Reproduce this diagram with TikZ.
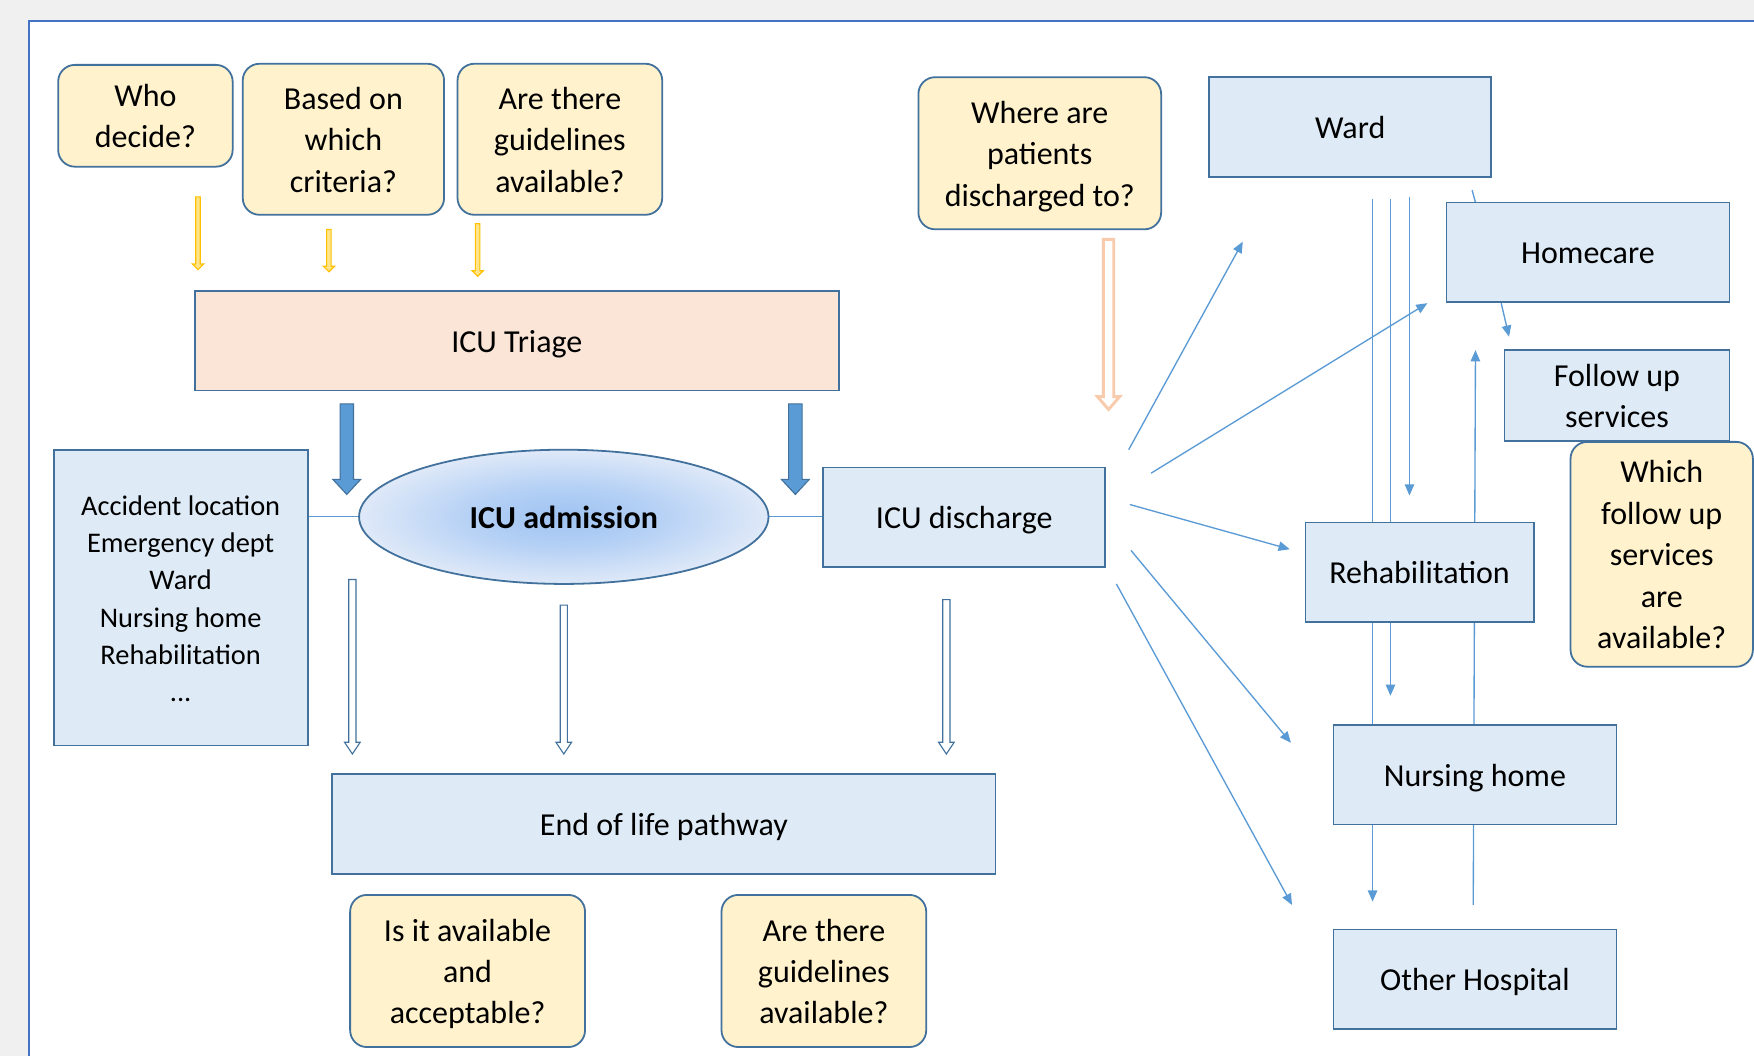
\documentclass[tikz,border=0pt]{standalone}
\usepackage{fontspec}
\setmainfont{Carlito}
\usetikzlibrary{arrows.meta,shapes.geometric}
\definecolor{qfill}{HTML}{FFF2CC}
\definecolor{bfill}{HTML}{DEEBF7}
\definecolor{tfill}{HTML}{FBE5D6}
\definecolor{bord}{HTML}{41719C}
\definecolor{lnkc}{HTML}{5B9BD5}
\definecolor{goldc}{HTML}{FFC000}
\definecolor{goldfill}{HTML}{FFE48A}
\definecolor{peach}{HTML}{F8CBAD}
\definecolor{framec}{HTML}{4472C4}
\definecolor{bgg}{HTML}{F0F0F0}
\definecolor{shin}{HTML}{9FC3F2}
\definecolor{shmid}{HTML}{B4D0F5}
\definecolor{shout}{HTML}{DFE9F8}
\pgfdeclareradialshading{admshade}{\pgfpoint{0bp}{0bp}}{color(0bp)=(shin); color(11bp)=(shmid); color(25bp)=(shout); color(50bp)=(shout)}
\pgfdeclarelayer{back}
\pgfdeclarelayer{bg}
\pgfsetlayers{back,bg,main}
\newcommand{\blockdown}[7]{%
  \draw[#1] ({#2-#5},#3) -- ({#2+#5},#3) -- ({#2+#5},{#4-#7}) -- ({#2+#6},{#4-#7}) -- (#2,#4) -- ({#2-#6},{#4-#7}) -- ({#2-#5},{#4-#7}) -- cycle;}
\newcommand{\boxtext}[1]{\raisebox{-1.4pt}[\height][\depth]{\begin{tabular}{@{}c@{}}#1\end{tabular}}}
\begin{document}
\begin{tikzpicture}[x=0.5pt,y=-0.5pt,
  qbox/.style={draw=bord, line width=0.8pt, fill=qfill, rounded corners=7.5pt, inner sep=0pt, font=\fontsize{14.3}{18.5}\selectfont},
  bbox/.style={draw=bord, line width=0.8pt, fill=bfill, inner sep=0pt, font=\fontsize{14.3}{18.5}\selectfont},
  lnk/.style={draw=lnkc, line width=0.6pt},
  tipl/.style={lnk, -{Triangle[length=5pt,width=4.2pt]}},
  goldarrow/.style={draw=goldc, fill=goldfill, line width=0.5pt},
  hollow/.style={draw=bord, fill=white, line width=0.5pt},
  thick blue/.style={draw=bord, fill=lnkc, line width=0.5pt}
]
\useasboundingbox (0,0) rectangle (1568,944);
\begin{pgfonlayer}{back}
\fill[bgg] (0,0) rectangle (1568,944);
\fill[white] (26,19) rectangle (1568,944);
\draw[framec, line width=0.8pt] (26,944) -- (26,19) -- (1568,19);
\end{pgfonlayer}

% question boxes
\node[qbox, minimum width=78pt, minimum height=45.5pt] (who) at (130,103.5) {\boxtext{Who\\decide?}};
\node[qbox, minimum width=90pt, minimum height=67.5pt] (crit) at (307,124.5) {\boxtext{Based on\\which\\criteria?}};
\node[qbox, minimum width=91.5pt, minimum height=67.5pt] (guide) at (500.5,124.5) {\boxtext{Are there\\guidelines\\available?}};
\node[qbox, minimum width=108.5pt, minimum height=68pt] (where) at (929.5,137) {\boxtext{Where are\\patients\\discharged to?}};
\node[qbox, minimum width=105pt, minimum height=68pt] (avail) at (418,868) {\boxtext{Is it available\\and\\acceptable?}};
\node[qbox, minimum width=91.5pt, minimum height=68pt] (guide2) at (736.5,868) {\boxtext{Are there\\guidelines\\available?}};

% main boxes
\node[bbox, fill=tfill, minimum width=288pt, minimum height=44.5pt] (triage) at (462,304.5) {\boxtext{ICU Triage}};
\node[ellipse, draw=bord, line width=0.8pt, shading=admshade, minimum width=183pt, minimum height=60pt, inner sep=0pt, font=\fontsize{14.3}{18.5}\selectfont\bfseries] (adm) at (504,462) {\boxtext{ICU admission}};
\node[bbox, minimum width=113.5pt, minimum height=132pt, font=\fontsize{12.7}{16.6}\selectfont] (src) at (161.5,534.5) {\boxtext{Accident location\\Emergency dept\\Ward\\Nursing home\\Rehabilitation\\...}};
\node[bbox, minimum width=126pt, minimum height=44.5pt] (disc) at (862,462.5) {\boxtext{ICU discharge}};
\node[bbox, minimum width=296.5pt, minimum height=44.5pt] (eol) at (593.5,736.5) {\boxtext{End of life pathway}};
\node[bbox, minimum width=126pt, minimum height=44.5pt] (ward) at (1207,113.5) {\boxtext{Ward}};
\node[bbox, minimum width=126.5pt, minimum height=44.5pt] (home) at (1419.5,225.5) {\boxtext{Homecare}};
\node[bbox, minimum width=100.5pt, minimum height=40.5pt] (follow) at (1445.5,353.5) {\boxtext{Follow up\\services}};
\node[qbox, minimum width=81.5pt, minimum height=100.5pt] (which) at (1485.5,495.5) {\boxtext{Which\\follow up\\services\\are\\available?}};
\node[bbox, minimum width=102pt, minimum height=44.5pt] (rehab) at (1269,511.5) {\boxtext{Rehabilitation}};
\node[bbox, minimum width=126.5pt, minimum height=44.5pt] (nurs) at (1318.5,692.5) {\boxtext{Nursing home}};
\node[bbox, minimum width=126.5pt, minimum height=44.5pt] (other) at (1318.5,875.5) {\boxtext{Other Hospital}};

% block arrows
\blockdown{goldarrow}{177}{176}{241}{2}{5}{5}
\blockdown{goldarrow}{294}{205}{243}{2}{5}{5}
\blockdown{goldarrow}{427}{200}{247}{2}{5}{5}
\blockdown{thick blue}{310}{361}{442}{6}{12.5}{13.5}
\blockdown{thick blue}{711}{361}{442}{6}{12.5}{13.5}
\blockdown{hollow}{315}{518}{674}{3.2}{7}{10.5}
\blockdown{hollow}{504}{541}{674}{3.2}{7}{10.5}
\blockdown{hollow}{846}{536}{674}{3.2}{7}{10.5}
\blockdown{draw=peach, fill=white, line width=1.3pt}{991}{214}{366}{4.6}{10}{11.5}

% connectors
\coordinate (f1s) at (1009,402); \coordinate (f1e) at (1111,216);
\coordinate (f2s) at (1029,423); \coordinate (f2e) at (1276,271);
\coordinate (f3s) at (1010,451); \coordinate (f3e) at (1153,491);
\coordinate (f4s) at (1011,492); \coordinate (f4e) at (1154,664);
\coordinate (f5s) at (998,522);  \coordinate (f5e) at (1155,809);
\coordinate (v1s) at (1227,178); \coordinate (v1e) at (1227,806);
\coordinate (v2s) at (1243,178); \coordinate (v2e) at (1243,622);
\coordinate (v3s) at (1260,176); \coordinate (v3e) at (1260,443);
\coordinate (v4s) at (1317,809); \coordinate (v4e) at (1319,313);
\coordinate (sts) at (1316,170); \coordinate (ste) at (1319,181);
\coordinate (hfs) at (1342,271); \coordinate (hfe) at (1349,301);
\begin{pgfonlayer}{bg}
\draw[lnk] (adm.west -| src.east) -- (adm.west);
\draw[lnk] (adm.east) -- (adm.east -| disc.west);
\draw[tipl] (f1s) -- (f1e);
\draw[tipl] (f2s) -- (f2e);
\draw[tipl] (f3s) -- (f3e);
\draw[tipl] (f4s) -- (f4e);
\draw[tipl] (f5s) -- (f5e);
\draw[tipl] (v1s) -- (v1e);
\draw[tipl] (v2s) -- (v2e);
\draw[tipl] (v3s) -- (v3e);
\draw[tipl] (v4s) -- (v4e);
\draw[lnk] (sts) -- (ste);
\draw[tipl] (hfs) -- (hfe);
\end{pgfonlayer}
\end{tikzpicture}
\end{document}
